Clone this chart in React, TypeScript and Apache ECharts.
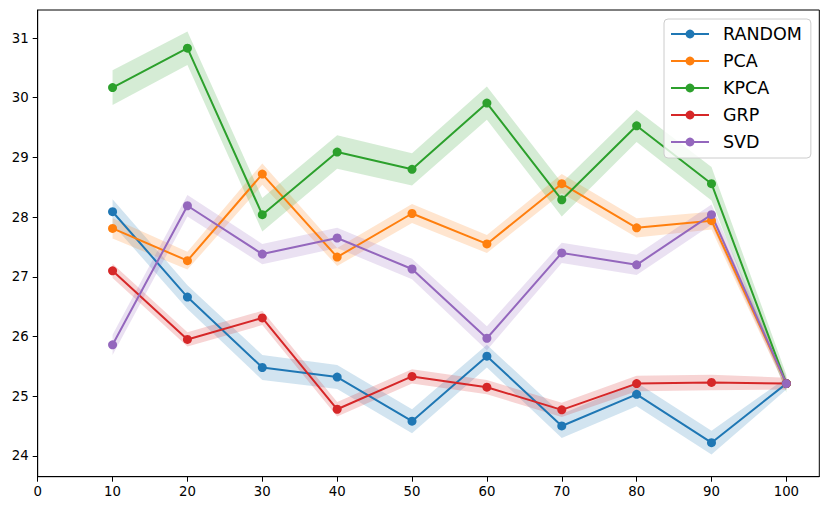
import React, { useEffect, useRef } from "react";
import * as echarts from "echarts";

const xValues = [10, 20, 30, 40, 50, 60, 70, 80, 90, 100];
const xTicks = [0, 10, 20, 30, 40, 50, 60, 70, 80, 90, 100];
const yTicks = [24, 25, 26, 27, 28, 29, 30, 31];

const seriesNames = ["RANDOM", "PCA", "KPCA", "GRP", "SVD"];
const seriesColors = ["#1f77b4", "#ff7f0e", "#2ca02c", "#d62728", "#9467bd"];

const randomMean = [28.09, 26.66, 25.48, 25.32, 24.58, 25.67, 24.5, 25.03, 24.22, 25.21];
const pcaMean = [27.81, 27.27, 28.72, 27.33, 28.06, 27.55, 28.56, 27.82, 27.94, 25.21];
const kpcaMean = [30.17, 30.83, 28.04, 29.09, 28.8, 29.91, 28.29, 29.53, 28.56, 25.21];
const grpMean = [27.1, 25.95, 26.31, 24.78, 25.33, 25.15, 24.77, 25.21, 25.23, 25.21];
const svdMean = [25.86, 28.19, 27.38, 27.65, 27.13, 25.97, 27.4, 27.2, 28.04, 25.21];

const randomStd = [0.21, 0.2, 0.21, 0.2, 0.2, 0.19, 0.2, 0.2, 0.2, 0.1];
const pcaStd = [0.17, 0.15, 0.18, 0.15, 0.16, 0.15, 0.16, 0.16, 0.15, 0.1];
const kpcaStd = [0.29, 0.28, 0.28, 0.28, 0.27, 0.28, 0.28, 0.27, 0.28, 0.15];
const grpStd = [0.12, 0.12, 0.12, 0.12, 0.12, 0.12, 0.12, 0.13, 0.13, 0.1];
const svdStd = [0.17, 0.18, 0.17, 0.17, 0.17, 0.2, 0.17, 0.17, 0.17, 0.1];

const means = [randomMean, pcaMean, kpcaMean, grpMean, svdMean];
const stds = [randomStd, pcaStd, kpcaStd, grpStd, svdStd];

function rgba(hex: string, a: number) {
  const r = parseInt(hex.slice(1, 3), 16);
  const g = parseInt(hex.slice(3, 5), 16);
  const b = parseInt(hex.slice(5, 7), 16);
  return `rgba(${r},${g},${b},${a})`;
}

const FONT = "DejaVu Sans";

export default function App() {
  const ref = useRef<HTMLDivElement>(null);
  useEffect(() => {
    if (!ref.current) return;
    const chart = echarts.init(ref.current, null, { renderer: "svg" });

    const bandSeries = seriesNames.map((name, si) => ({
      type: "custom",
      name: name + "_band",
      silent: true,
      z: 1,
      data: [[xValues[0], means[si][0]]],
      renderItem: (params: any, api: any) => {
        if (params.dataIndex !== 0) return null;
        const upper = xValues.map((x, i) => api.coord([x, means[si][i] + stds[si][i]]));
        const lower = xValues
          .map((x, i) => api.coord([x, means[si][i] - stds[si][i]]))
          .reverse();
        return {
          type: "polygon",
          shape: { points: upper.concat(lower) },
          style: { fill: rgba(seriesColors[si], 0.2), stroke: "none" },
        };
      },
    }));

    const lineSeries = seriesNames.map((name, si) => ({
      type: "line",
      name,
      z: 3,
      data: xValues.map((x, i) => [x, means[si][i]]),
      symbol: "circle",
      symbolSize: 9,
      showSymbol: true,
      color: seriesColors[si],
      lineStyle: { width: 2, color: seriesColors[si] },
      itemStyle: { color: seriesColors[si] },
    }));

    chart.setOption({
      animation: false,
      textStyle: { fontFamily: FONT },
      grid: {
        left: 37.7,
        right: 10.7,
        top: 10,
        bottom: 33.3,
        show: true,
        borderColor: "#000",
        borderWidth: 1,
        backgroundColor: "transparent",
      },
      legend: {
        data: seriesNames,
        left: 664,
        top: 19,
        orient: "vertical",
        itemWidth: 38,
        itemHeight: 11,
        itemGap: 9,
        padding: [6, 9, 7, 6],
        backgroundColor: "rgba(255,255,255,0.8)",
        borderColor: "#cccccc",
        borderWidth: 1,
        borderRadius: 4,
        textStyle: {
          fontFamily: FONT,
          fontSize: 17.5,
          color: "#000",
          padding: [0, 0, 0, 9],
        },
      },
      xAxis: {
        type: "value",
        min: 0,
        max: 104.4,
        splitLine: { show: false },
        axisLine: { show: true, onZero: false, lineStyle: { color: "#000", width: 1 } },
        axisTick: { show: true, length: 5, customValues: xTicks, lineStyle: { color: "#000" } },
        axisLabel: {
          customValues: xTicks,
          color: "#000",
          fontSize: 13.3,
          fontFamily: FONT,
          margin: 8,
        },
      },
      yAxis: {
        type: "value",
        min: 23.65,
        max: 31.47,
        splitLine: { show: false },
        axisLine: { show: true, onZero: false, lineStyle: { color: "#000", width: 1 } },
        axisTick: { show: true, length: 5, customValues: yTicks, lineStyle: { color: "#000" } },
        axisLabel: {
          customValues: yTicks,
          color: "#000",
          fontSize: 13.3,
          fontFamily: FONT,
          margin: 9,
        },
      },
      series: [...bandSeries, ...lineSeries],
    });
    return () => chart.dispose();
  }, []);
  return (
    <div
      ref={ref}
      style={{ position: "absolute", left: 0, top: 0, width: 830, height: 510, background: "#fff" }}
    />
  );
}
